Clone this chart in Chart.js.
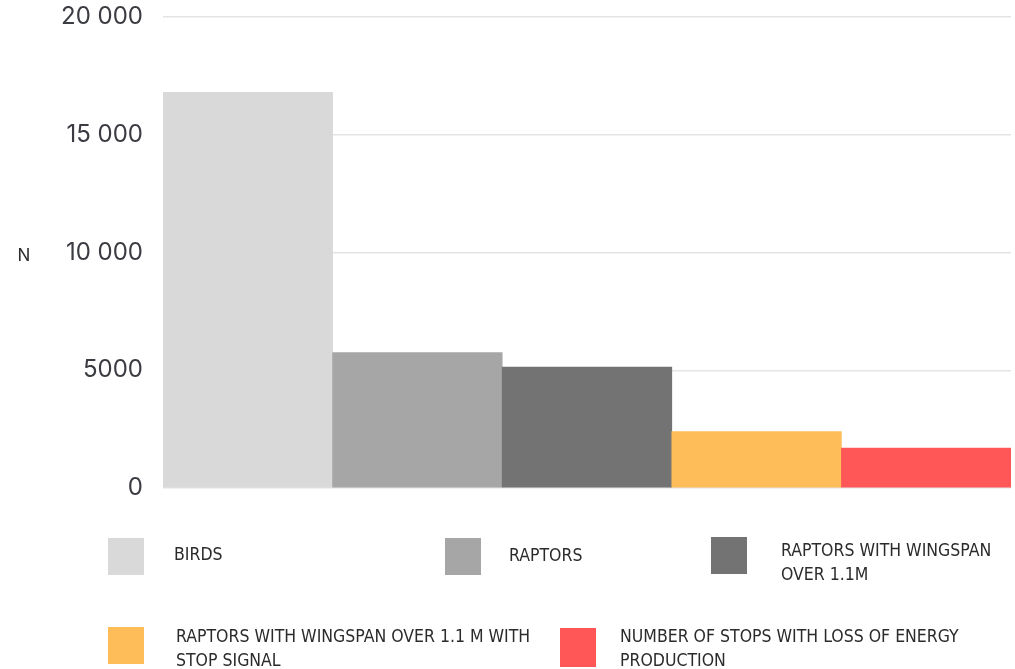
<!DOCTYPE html>
<html>
<head>
<meta charset="utf-8">
<script src="https://cdn.jsdelivr.net/npm/chart.js@4"></script>
<style>
    body { margin: 0; background: #fff; width: 1015px; height: 669px; overflow: hidden; position: relative; }
    #wrap { position: absolute; left: 0; top: 0; width: 1015px; height: 510px; }
    #legenda { position: absolute; left: 0; top: 0; width: 1015px; height: 669px; pointer-events: none; }
    .item { position: absolute; display: flex; align-items: flex-start; }
    .caixa { width: 36px; height: 37px; flex: none; }
    .texto { font-family: "Liberation Sans Narrow", "DejaVu Sans Condensed", sans-serif; font-size: 17.5px; line-height: 24px; color: #2b2b2b; margin-left: 30px; }
    .item:nth-child(1) { left: 108px; top: 538px; }
    .item:nth-child(1) .texto { margin-top: 4px; }
    .item:nth-child(2) { left: 445px; top: 538px; }
    .item:nth-child(2) .texto { margin-left: 28px; margin-top: 5px; }
    .item:nth-child(3) { left: 711px; top: 537px; width: 300px; }
    .item:nth-child(3) .texto { margin-left: 34px; margin-top: 1px; }
    .item:nth-child(4) { left: 108px; top: 627px; width: 440px; }
    .item:nth-child(4) .texto { margin-left: 32px; margin-top: -3px; }
    .item:nth-child(5) { left: 560px; top: 628px; width: 420px; }
    .item:nth-child(5) .texto { margin-left: 24px; margin-top: -4px; }
    .item:nth-child(5) .caixa { height: 39px; }
</style>
</head>
<body>
<div id="wrap"><canvas id="grafico"></canvas></div>
<div id="legenda"></div>
<script>
// categorias e valores
const categorias = [
    'BIRDS',
    'RAPTORS',
    'RAPTORS WITH WINGSPAN OVER 1.1M',
    'RAPTORS WITH WINGSPAN OVER 1.1 M WITH STOP SIGNAL',
    'NUMBER OF STOPS WITH LOSS OF ENERGY PRODUCTION'
];
const valores = [16800, 5750, 5130, 2400, 1690];
const cores = ['#d9d9d9', '#a6a6a6', '#737373', '#ffbd59', '#ff5757'];
const ticks_y = [0, 5000, 10000, 15000, 20000];
const titulo_y = 'N';

function formatar(v) {
    // 5000 sem espaco, 10 000 com espaco
    if (v >= 10000) {
        return String(v).replace(/\B(?=(\d{3})+(?!\d))/g, ' ');
    }
    return String(v);
}

// escreve o "N" sem rotacao, centrado na area do grafico
const tituloN = {
    id: 'tituloN',
    afterDraw(chart) {
        const ctx = chart.ctx;
        const area = chart.chartArea;
        ctx.save();
        ctx.font = '17px Inter, sans-serif';
        ctx.fillStyle = '#2b2b2b';
        ctx.textAlign = 'center';
        ctx.textBaseline = 'middle';
        ctx.fillText(titulo_y, 24, (area.top + area.bottom) / 2 + 3);
        ctx.restore();
    }
};

const data_barras = {
    labels: categorias,
    datasets: [{
        label: 'N',
        data: valores,
        backgroundColor: cores,
        borderWidth: 0,
        categoryPercentage: 1,
        barPercentage: 1
    }]
};

const config_barras = {
    type: 'bar',
    data: data_barras,
    options: {
        responsive: true,
        maintainAspectRatio: false,
        animation: false,
        layout: {
            padding: { top: 17, right: 4, bottom: 22, left: 0 }
        },
        scales: {
            x: { display: false },
            y: {
                min: 0,
                max: 20000,
                afterBuildTicks: (s) => { s.ticks = ticks_y.map(v => ({ value: v })); },
                afterFit: (s) => {
                    s.width = 163;
                    s.paddingTop = 0;
                    s.paddingBottom = 0;
                },
                border: { display: false },
                grid: {
                    color: '#e4e4e4',
                    lineWidth: 1.5,
                    drawTicks: false
                },
                ticks: {
                    padding: 20,
                    color: '#3a3c42',
                    font: { size: 24, family: 'Inter' },
                    callback: (v) => formatar(v)
                }
            }
        },
        plugins: {
            legend: { display: false },
            tooltip: { enabled: false }
        }
    },
    plugins: [tituloN]
};

const grafico = new Chart(document.getElementById('grafico'), config_barras);

// legenda em html, montada a partir das mesmas listas
const legenda = document.getElementById('legenda');
categorias.forEach((nome, i) => {
    const item = document.createElement('div');
    item.className = 'item';
    const caixa = document.createElement('div');
    caixa.className = 'caixa';
    caixa.style.background = cores[i];
    const texto = document.createElement('div');
    texto.className = 'texto';
    texto.textContent = nome;
    item.appendChild(caixa);
    item.appendChild(texto);
    legenda.appendChild(item);
});
</script>
</body>
</html>
